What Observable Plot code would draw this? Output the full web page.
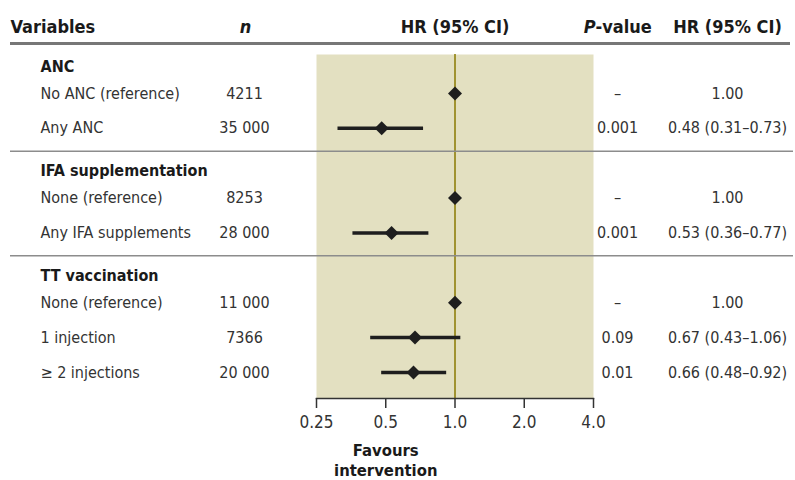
<!DOCTYPE html>
<html>
<head>
<meta charset="utf-8">
<script src="https://cdn.jsdelivr.net/npm/d3@7"></script>
<script src="https://cdn.jsdelivr.net/npm/@observablehq/plot@0.6"></script>
<style>
  body { margin: 0; background: white; }
</style>
</head>
<body>
<div id="chart"></div>
<script>
const groups = ["ANC", "IFA supplementation", "TT vaccination"];
const labels = ["No ANC (reference)", "Any ANC", "None (reference)", "Any IFA supplements", "None (reference)", "1 injection", "\u2265 2 injections"];
const groupOf = [0, 0, 1, 1, 2, 2, 2];
const nValues = [4211, 35000, 8253, 28000, 11000, 7366, 20000];
const hrValues = [1, 0.48, 1, 0.53, 1, 0.67, 0.66];
const loValues = [null, 0.31, null, 0.36, null, 0.43, 0.48];
const hiValues = [null, 0.73, null, 0.77, null, 1.06, 0.92];
const pValues = ["\u2013", "0.001", "\u2013", "0.001", "\u2013", "0.09", "0.01"];
const xTicks = [0.25, 0.5, 1, 2, 4];
const tickLabels = ["0.25", "0.5", "1.0", "2.0", "4.0"];
const favours = [{text: "Favours\nintervention", x: 0.5}];

const FONT = "'Liberation Sans Narrow', 'Arial Narrow', 'DejaVu Sans Condensed', sans-serif";

const fmtN = n => n >= 10000 ? d3.format(",")(n).replace(/,/g, " ") : String(n);

const rows = labels.map((label, i) => ({
  key: "r" + i, label, group: groupOf[i], n: nValues[i], hr: hrValues[i],
  lo: loValues[i], hi: hiValues[i], p: pValues[i],
  hrText: hrValues[i].toFixed(2) + (loValues[i] != null ? ` (${loValues[i].toFixed(2)}\u2013${hiValues[i].toFixed(2)})` : "")
}));
const heads = groups.map((g, i) => ({key: "g" + i, label: g}));
const domain = [];
groups.forEach((g, gi) => {
  domain.push("g" + gi);
  rows.filter(r => r.group === gi).forEach(r => domain.push(r.key));
});

const textCommon = {fontSize: 16, fill: "#333", lineAnchor: "middle"};
const headerCommon = {fontSize: 18, fontWeight: "bold", fill: "#1a1a1a", dy: -27, lineAnchor: "middle"};

const chart = Plot.plot({
  width: 795,
  height: 480,
  marginLeft: 316,
  marginRight: 202,
  marginTop: 54,
  marginBottom: 82,
  x: {type: "log", base: 2, domain: [0.25, 4]},
  y: {type: "point", domain, range: [58, 372], padding: 0, round: false, axis: null},
  style: {fontFamily: FONT, background: "white", color: "#333"},
  marks: [
    Plot.frame({fill: "#e3e0c1", stroke: null}),
    Plot.ruleX([1], {stroke: "#8a7a00", strokeWidth: 1.5}),
    Plot.ruleY(rows.filter(d => d.lo != null), {y: "key", x1: "lo", x2: "hi", stroke: "#1e1e1e", strokeWidth: 3.5}),
    Plot.dot(rows, {x: "hr", y: "key", symbol: "diamond2", r: 6.3, fill: "#1e1e1e", stroke: null}),
    Plot.frame({anchor: "bottom", stroke: "#333", strokeWidth: 1.5}),
    Plot.axisX({ticks: xTicks, tickFormat: d => tickLabels[xTicks.indexOf(d)], tickSize: 10, tickPadding: 7, fontSize: 17, stroke: "#333", strokeWidth: 1.5, fill: "#333"}),
    Plot.text(favours, {x: "x", text: "text", frameAnchor: "bottom", lineAnchor: "top", dy: 43, fontWeight: "bold", fontSize: 16.5, lineHeight: 1.22, fill: "#1a1a1a"}),
    // header rule and separators
    Plot.ruleY(["g0"], {y: d => d, dy: -15, insetLeft: -306, insetRight: -197, stroke: "#777", strokeWidth: 3}),
    Plot.ruleY(["g1", "g2"], {y: d => d, dy: -12, insetLeft: -306, insetRight: -200, stroke: "#8c8c8c", strokeWidth: 1.5}),
    // group headings
    Plot.text(heads, {y: "key", text: "label", frameAnchor: "left", dx: -276, dy: 8, textAnchor: "start", lineAnchor: "middle", fontWeight: "bold", fontSize: 16, fill: "#1a1a1a"}),
    // table columns
    Plot.text(rows, {y: "key", text: "label", frameAnchor: "left", dx: -276, textAnchor: "start", ...textCommon}),
    Plot.text(rows, {y: "key", text: d => fmtN(d.n), frameAnchor: "left", dx: -72, textAnchor: "middle", ...textCommon}),
    Plot.text(rows, {y: "key", text: "p", frameAnchor: "right", dx: 24, textAnchor: "middle", ...textCommon}),
    Plot.text(rows, {y: "key", text: "hrText", frameAnchor: "right", dx: 134, textAnchor: "middle", ...textCommon}),
    // column headers
    Plot.text(["Variables"], {text: d => d, frameAnchor: "top-left", dx: -306, textAnchor: "start", ...headerCommon}),
    Plot.text(["n"], {text: d => d, frameAnchor: "top-left", dx: -71, textAnchor: "middle", fontStyle: "italic", ...headerCommon}),
    Plot.text(["HR (95% CI)"], {text: d => d, frameAnchor: "top", textAnchor: "middle", ...headerCommon}),
    Plot.text(["P"], {text: d => d, frameAnchor: "top-right", dx: 2, textAnchor: "end", fontStyle: "italic", ...headerCommon}),
    Plot.text(["-value"], {text: d => d, frameAnchor: "top-right", dx: 2, textAnchor: "start", ...headerCommon}),
    Plot.text(["HR (95% CI)"], {text: d => d, frameAnchor: "top-right", dx: 134, textAnchor: "middle", ...headerCommon})
  ]
});
document.getElementById("chart").append(chart);
</script>
</body>
</html>
